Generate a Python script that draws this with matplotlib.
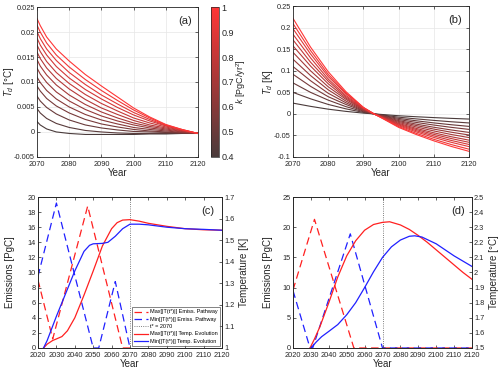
import matplotlib
matplotlib.use("Agg")
import matplotlib.pyplot as plt
import numpy as np
from matplotlib.colors import LinearSegmentedColormap, Normalize
from matplotlib.ticker import FuncFormatter

plt.rcParams['font.family'] = ['Liberation Sans', 'DejaVu Sans']
plt.rcParams['mathtext.fontset'] = 'custom'
plt.rcParams['mathtext.rm'] = 'Liberation Sans'
plt.rcParams['mathtext.it'] = 'Liberation Sans:italic'

# ---- panel (a) : T_d [°C], one curve per k ----
k_vals = [0.40, 0.45, 0.50, 0.55, 0.60, 0.65, 0.70, 0.75, 0.80, 0.85, 0.90, 0.95, 1.00]
years_a = [2070, 2071, 2073, 2076, 2080, 2085, 2090, 2095, 2100, 2105, 2110, 2115, 2120]
td_a = [
    [0.0021, 0.0014, 0.0006, 0.0000, -0.0003, -0.0005, -0.0005, -0.0005, -0.0005, -0.0004, -0.0004, -0.0003, -0.0003],
    [0.0047, 0.0038, 0.0027, 0.0017, 0.0009, 0.0003, 0.0000, -0.0002, -0.0003, -0.0003, -0.0003, -0.0003, -0.0003],
    [0.0072, 0.0062, 0.0049, 0.0036, 0.0024, 0.0014, 0.0008, 0.0004, 0.0001, 0.0000, -0.0001, -0.0002, -0.0003],
    [0.0092, 0.0082, 0.0067, 0.0052, 0.0038, 0.0025, 0.0016, 0.0010, 0.0005, 0.0002, 0.0000, -0.0002, -0.0003],
    [0.0110, 0.0099, 0.0083, 0.0066, 0.0050, 0.0035, 0.0024, 0.0016, 0.0009, 0.0005, 0.0002, -0.0001, -0.0003],
    [0.0128, 0.0116, 0.0099, 0.0080, 0.0062, 0.0045, 0.0032, 0.0022, 0.0014, 0.0008, 0.0004, 0.0000, -0.0003],
    [0.0145, 0.0132, 0.0114, 0.0094, 0.0074, 0.0055, 0.0040, 0.0028, 0.0018, 0.0011, 0.0006, 0.0001, -0.0003],
    [0.0160, 0.0147, 0.0128, 0.0107, 0.0086, 0.0065, 0.0048, 0.0035, 0.0023, 0.0014, 0.0008, 0.0002, -0.0003],
    [0.0174, 0.0161, 0.0141, 0.0119, 0.0097, 0.0075, 0.0057, 0.0042, 0.0028, 0.0018, 0.0010, 0.0003, -0.0003],
    [0.0188, 0.0174, 0.0154, 0.0131, 0.0108, 0.0085, 0.0066, 0.0049, 0.0034, 0.0022, 0.0012, 0.0004, -0.0003],
    [0.0201, 0.0187, 0.0166, 0.0143, 0.0119, 0.0095, 0.0074, 0.0056, 0.0039, 0.0025, 0.0013, 0.0004, -0.0003],
    [0.0214, 0.0200, 0.0178, 0.0154, 0.0130, 0.0105, 0.0083, 0.0063, 0.0044, 0.0028, 0.0014, 0.0005, -0.0003],
    [0.0227, 0.0213, 0.0190, 0.0166, 0.0142, 0.0115, 0.0092, 0.0070, 0.0048, 0.0030, 0.0015, 0.0005, -0.0003],
]

# ---- panel (b) : T_d [K] ----
years_b = [2070, 2075, 2080, 2085, 2090, 2093, 2095, 2100, 2105, 2110, 2115, 2120]
td_b = [
    [0.025, 0.0175, 0.011, 0.0059, 0.0018, 0, -0.0012, -0.0043, -0.0066, -0.0086, -0.0104, -0.012],
    [0.050, 0.035, 0.022, 0.0118, 0.0035, 0, -0.0021, -0.0076, -0.0116, -0.0151, -0.0183, -0.021],
    [0.072, 0.050, 0.032, 0.017, 0.005, 0, -0.0029, -0.0104, -0.016, -0.0209, -0.0252, -0.029],
    [0.092, 0.064, 0.040, 0.022, 0.0064, 0, -0.0036, -0.013, -0.0198, -0.0259, -0.0313, -0.036],
    [0.110, 0.077, 0.048, 0.026, 0.0077, 0, -0.0043, -0.0155, -0.0237, -0.031, -0.0374, -0.043],
    [0.127, 0.089, 0.056, 0.030, 0.0089, 0, -0.0049, -0.0176, -0.027, -0.0353, -0.0426, -0.049],
    [0.143, 0.100, 0.063, 0.034, 0.010, 0, -0.0055, -0.0198, -0.0303, -0.0396, -0.0479, -0.055],
    [0.158, 0.111, 0.070, 0.037, 0.011, 0, -0.0061, -0.022, -0.0336, -0.0439, -0.0531, -0.061],
    [0.172, 0.120, 0.076, 0.040, 0.012, 0, -0.0066, -0.0238, -0.0363, -0.0475, -0.0574, -0.066],
    [0.185, 0.130, 0.081, 0.043, 0.013, 0, -0.0071, -0.0256, -0.039, -0.0511, -0.0618, -0.071],
    [0.198, 0.139, 0.087, 0.047, 0.014, 0, -0.0076, -0.0274, -0.0418, -0.0547, -0.0661, -0.076],
    [0.210, 0.147, 0.092, 0.049, 0.015, 0, -0.0082, -0.0295, -0.0451, -0.059, -0.0713, -0.082],
    [0.222, 0.155, 0.098, 0.052, 0.015, 0, -0.0087, -0.0313, -0.0479, -0.0626, -0.0757, -0.087],
]

# ---- panel (c) : emissions [PgC] and temperature [K] ----
c_max_em_yr = [2020, 2028, 2047, 2066, 2070]
c_max_em = [9.0, 1.2, 18.8, 0, 0]
c_min_em_yr = [2020, 2030, 2050, 2053, 2062, 2070]
c_min_em = [9.5, 19.2, 0, 0, 8.8, 0]
c_max_T_yr = [2023, 2025, 2028, 2030, 2033, 2036, 2040, 2045, 2050, 2055, 2060, 2063, 2066, 2070, 2075, 2080, 2090, 2100, 2110, 2120]
c_max_T = [1.0, 1.018, 1.035, 1.042, 1.053, 1.08, 1.14, 1.245, 1.357, 1.473, 1.553, 1.581, 1.593, 1.595, 1.588, 1.578, 1.564, 1.553, 1.548, 1.546]
c_min_T_yr = [2023, 2025, 2030, 2035, 2040, 2045, 2048, 2050, 2055, 2058, 2062, 2066, 2070, 2075, 2080, 2090, 2100, 2110, 2120]
c_min_T = [1.0, 1.035, 1.147, 1.252, 1.357, 1.448, 1.476, 1.483, 1.485, 1.49, 1.518, 1.553, 1.574, 1.574, 1.571, 1.56, 1.553, 1.55, 1.546]

# ---- panel (d) : emissions [PgC] and temperature [°C] ----
d_max_em_yr = [2020, 2032, 2054, 2120]
d_max_em = [9.6, 21.3, 0, 0]
d_min_em_yr = [2020, 2029.5, 2031, 2052, 2070, 2120]
d_min_em = [9.5, 0, 0, 18.9, 0, 0]
d_max_T_yr = [2029.5, 2032, 2035, 2040, 2045, 2050, 2055, 2060, 2065, 2070, 2074, 2080, 2085, 2090, 2095, 2100, 2105, 2110, 2115, 2120]
d_max_T = [1.5, 1.56, 1.64, 1.80, 1.97, 2.11, 2.21, 2.28, 2.318, 2.332, 2.336, 2.315, 2.285, 2.245, 2.20, 2.15, 2.10, 2.05, 2.00, 1.955]
d_min_T_yr = [2030, 2033, 2036, 2040, 2045, 2050, 2055, 2060, 2065, 2070, 2075, 2080, 2085, 2088, 2092, 2100, 2105, 2110, 2115, 2120]
d_min_T = [1.5, 1.54, 1.575, 1.61, 1.655, 1.72, 1.80, 1.90, 2.005, 2.10, 2.17, 2.215, 2.24, 2.243, 2.235, 2.19, 2.15, 2.11, 2.075, 2.04]

t_star = 2070

legend_labels = ['Max[|T(t*)|] Emiss. Pathway', 'Min[|T(t*)|] Emiss. Pathway', 't* = 2070',
                 'Max[|T(t*)|] Temp. Evolution', 'Min[|T(t*)|] Temp. Evolution']

ink = '#262626'
fs_tick = 5.3
fs_lab = 7

cmap = LinearSegmentedColormap.from_list('k_map', ['#4a3b3b', '#ff3636'])
norm = Normalize(vmin=0.4, vmax=1.0)

fmt = FuncFormatter(lambda v, p: f"{round(v, 6):g}")


def style(ax, grid=False):
    for s in ax.spines.values():
        s.set_color(ink)
        s.set_linewidth(0.6)
    ax.tick_params(direction='in', length=2.5, width=0.5, colors=ink, labelsize=fs_tick,
                   top=True, right=True, pad=1.5)
    ax.tick_params(axis='x', pad=3)
    if grid:
        ax.grid(True, color='#e6e6e6', linewidth=0.5)
        ax.set_axisbelow(True)


def ylab(ax, text, x):
    ax.set_ylabel(text, fontsize=fs_lab, color=ink, rotation=90, va='center', ha='center')
    ax.yaxis.set_label_coords(x, 0.5)


fig = plt.figure(figsize=(5, 3.71), dpi=100)

# (a)
ax_a = fig.add_axes([0.074, 0.577, 0.322, 0.404])
for k, row in zip(k_vals, td_a):
    ax_a.plot(years_a, row, color=cmap(norm(k)), lw=0.8)
ax_a.set_xlim(2070, 2120)
ax_a.set_ylim(-0.005, 0.025)
ax_a.set_xticks(np.arange(2070, 2121, 10))
ax_a.set_yticks(np.arange(-0.005, 0.0251, 0.005))
ax_a.yaxis.set_major_formatter(fmt)
ax_a.set_xlabel('Year', fontsize=fs_lab, color=ink, labelpad=0)
ylab(ax_a, r'$T_d$ [°C]', -0.175)
ax_a.text(0.96, 0.94, '(a)', transform=ax_a.transAxes, ha='right', va='top', fontsize=8, color=ink)
style(ax_a, grid=True)

cax = fig.add_axes([0.422, 0.577, 0.015, 0.404])
sm = plt.cm.ScalarMappable(norm=norm, cmap=cmap)
cb = fig.colorbar(sm, cax=cax)
cb.set_ticks(np.arange(0.4, 1.01, 0.1))
cb.ax.yaxis.set_major_formatter(fmt)
cb.ax.tick_params(labelsize=6.5, colors=ink, length=0, pad=2)
cb.outline.set_linewidth(0.5)
cb.outline.set_edgecolor(ink)
cb.set_label(r'$k$ [PgC/yr$^2$]', fontsize=6.5, color=ink, labelpad=0)

# (b)
ax_b = fig.add_axes([0.586, 0.577, 0.352, 0.406])
for k, row in zip(k_vals, td_b):
    ax_b.plot(years_b, row, color=cmap(norm(k)), lw=0.8)
ax_b.set_xlim(2070, 2120)
ax_b.set_ylim(-0.1, 0.25)
ax_b.set_xticks(np.arange(2070, 2121, 10))
ax_b.set_yticks(np.arange(-0.1, 0.251, 0.05))
ax_b.yaxis.set_major_formatter(fmt)
ax_b.set_xlabel('Year', fontsize=fs_lab, color=ink, labelpad=0)
ylab(ax_b, r'$T_d$ [K]', -0.14)
ax_b.text(0.96, 0.94, '(b)', transform=ax_b.transAxes, ha='right', va='top', fontsize=8, color=ink)
style(ax_b, grid=True)

dash = (6, 3.5)

# (c)
ax_c = fig.add_axes([0.076, 0.062, 0.368, 0.407])
l1, = ax_c.plot(c_max_em_yr, c_max_em, color='#ff2020', lw=0.9, dashes=dash)
l2, = ax_c.plot(c_min_em_yr, c_min_em, color='#2020ff', lw=0.9, dashes=dash)
l3 = ax_c.axvline(t_star, color='#555555', lw=0.6, ls=':')
ax_c.set_xlim(2020, 2120)
ax_c.set_ylim(0, 20)
ax_c.set_xticks(np.arange(2020, 2121, 10))
ax_c.set_yticks(np.arange(0, 21, 2))
ax_c.set_xlabel('Year', fontsize=fs_lab, color=ink, labelpad=0)
ylab(ax_c, 'Emissions [PgC]', -0.15)
style(ax_c)
ax_c.tick_params(right=False)
ax_c2 = ax_c.twinx()
l4, = ax_c2.plot(c_max_T_yr, c_max_T, color='#ff2020', lw=0.9)
l5, = ax_c2.plot(c_min_T_yr, c_min_T, color='#2020ff', lw=0.9)
ax_c2.set_ylim(1, 1.7)
ax_c2.set_yticks(np.arange(1, 1.701, 0.1))
ax_c2.yaxis.set_major_formatter(fmt)
ylab(ax_c2, 'Temperature [K]', 1.12)
style(ax_c2)
ax_c2.tick_params(left=False, top=False)
ax_c2.text(0.96, 0.94, '(c)', transform=ax_c2.transAxes, ha='right', va='top', fontsize=8, color=ink)
leg = ax_c2.legend([l1, l2, l3, l4, l5], legend_labels,
                   loc='lower right', fontsize=4.0, frameon=True, fancybox=False,
                   handlelength=2.6, handletextpad=0.3, borderpad=0.4, labelspacing=0.42,
                   borderaxespad=0.35)
leg.get_frame().set_edgecolor(ink)
leg.get_frame().set_linewidth(0.5)

# (d)
ax_d = fig.add_axes([0.586, 0.062, 0.358, 0.407])
ax_d.plot(d_max_em_yr, d_max_em, color='#ff2020', lw=0.9, dashes=dash)
ax_d.plot(d_min_em_yr, d_min_em, color='#2020ff', lw=0.9, dashes=dash)
ax_d.axvline(t_star, color='#555555', lw=0.6, ls=':')
ax_d.set_xlim(2020, 2120)
ax_d.set_ylim(0, 25)
ax_d.set_xticks(np.arange(2020, 2121, 10))
ax_d.set_yticks(np.arange(0, 26, 5))
ax_d.set_xlabel('Year', fontsize=fs_lab, color=ink, labelpad=0)
ylab(ax_d, 'Emissions [PgC]', -0.14)
style(ax_d)
ax_d.tick_params(right=False)
ax_d2 = ax_d.twinx()
ax_d2.plot(d_max_T_yr, d_max_T, color='#ff2020', lw=0.9)
ax_d2.plot(d_min_T_yr, d_min_T, color='#2020ff', lw=0.9)
ax_d2.set_ylim(1.5, 2.5)
ax_d2.set_yticks(np.arange(1.5, 2.501, 0.1))
ax_d2.yaxis.set_major_formatter(fmt)
ylab(ax_d2, 'Temperature [°C]', 1.125)
style(ax_d2)
ax_d2.tick_params(left=False, top=False)
ax_d2.text(0.96, 0.94, '(d)', transform=ax_d2.transAxes, ha='right', va='top', fontsize=8, color=ink)

plt.savefig('out.png', dpi=100)
